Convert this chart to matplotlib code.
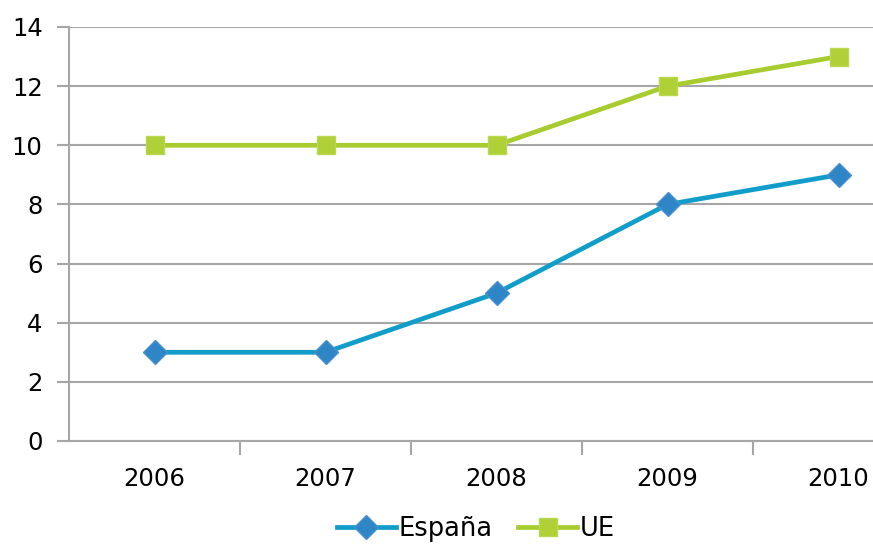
import matplotlib
matplotlib.use("Agg")
import matplotlib.pyplot as plt
import numpy as np

years = ["2006", "2007", "2008", "2009", "2010"]
espana = [3, 3, 5, 8, 9]
ue = [10, 10, 10, 12, 13]
y_ticks = [0, 2, 4, 6, 8, 10, 12, 14]

grid_color = "#A6A6A6"

fig = plt.figure(figsize=(8.73, 5.45), dpi=100)
# plot area runs past the right edge of the figure
ax = fig.add_axes([69 / 873, (545 - 441) / 545, 855 / 873, (441 - 27) / 545])

x = np.arange(len(years))
ax.plot(x, espana, color="#119DC9", lw=3.4, marker="D", markersize=12,
        markerfacecolor="#2E86C6", markeredgecolor="#4A8FD0", markeredgewidth=1,
        label="España", zorder=3, clip_on=False)
ax.plot(x, ue, color="#A8CC2F", lw=3.4, marker="s", markersize=13.5,
        markerfacecolor="#AFD036", markeredgecolor="#B8D850", markeredgewidth=1,
        label="UE", zorder=3, clip_on=False)

ax.set_xlim(-0.5, len(years) - 0.5)
ax.set_ylim(0, 14)
ax.set_yticks(y_ticks)
ax.set_yticklabels([str(v) for v in y_ticks], fontsize=17.5)
ax.yaxis.grid(True, color=grid_color, lw=1.5)
ax.set_axisbelow(True)

ax.set_xticks(x)
ax.set_xticklabels(years, fontsize=17.5)
ax.set_xticks(np.arange(0.5, len(years) - 0.5, 1), minor=True)
ax.tick_params(axis="x", which="major", length=0, pad=19)
ax.tick_params(axis="x", which="minor", length=10, width=1.5, color=grid_color)
ax.tick_params(axis="y", length=9, width=1.5, color=grid_color, pad=10)

for side in ("top", "right"):
    ax.spines[side].set_visible(False)
for side in ("left", "bottom"):
    ax.spines[side].set_color(grid_color)
    ax.spines[side].set_linewidth(1.5)

fig.legend(loc="center", bbox_to_anchor=(0.545, 0.03), ncol=2, frameon=False,
           fontsize=18.5, handlelength=2.3, handletextpad=0.1, columnspacing=1.0)

fig.savefig("out.png", dpi=100)
